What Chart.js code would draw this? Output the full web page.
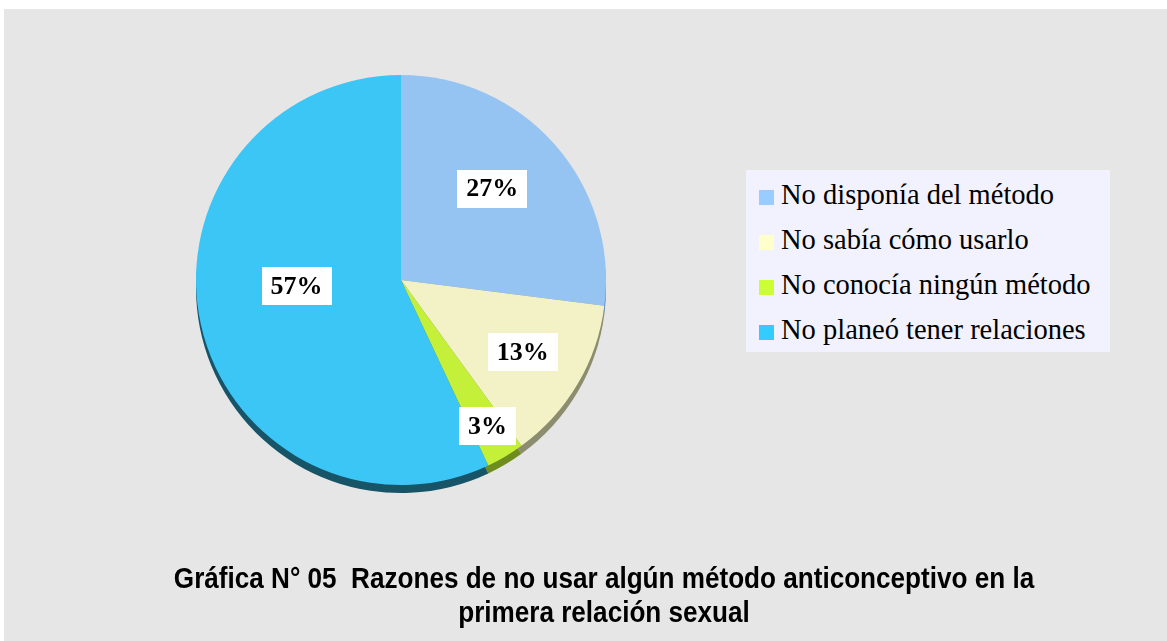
<!DOCTYPE html>
<html>
<head>
<meta charset="utf-8">
<script src="https://cdn.jsdelivr.net/npm/chart.js@4.4.1/dist/chart.umd.min.js"></script>
<style>
  body { margin: 0; background: #fff; width: 1167px; height: 641px; overflow: hidden; position: relative; }
  #panel { position: absolute; left: 4px; top: 9px; width: 1163px; height: 632px; background: #e6e6e6; }
  #pie { position: absolute; left: 0; top: 0; }
  #legend {
    position: absolute; left: 742px; top: 161px; width: 364px; height: 180px; padding-top: 2px;
    background: #f2f2fe; font-family: "Liberation Serif", "Times New Roman", serif; font-size: 28.5px; color: #000;
  }
  #legend div { height: 45px; line-height: 45px; white-space: nowrap; }
  #legend span { display: inline-block; width: 15px; height: 15px; margin: 0 7px 0 13px; vertical-align: -1px; }
  #title {
    position: absolute; left: 100px; top: 552px; width: 1000px; text-align: center;
    font-family: "Liberation Sans Narrow", "Arial Narrow", "Liberation Sans", sans-serif;
    font-weight: bold; font-size: 29px; line-height: 34px; color: #000;
    transform: scaleX(0.9); transform-origin: 500px 0;
  }
</style>
</head>
<body>
<div id="panel">
  <canvas id="pie" width="1163" height="632"></canvas>
  <div id="legend"></div>
  <div id="title">Gráfica N° 05&nbsp; Razones de no usar algún método anticonceptivo en la<br>primera relación sexual</div>
</div>
<script>
const categories = ["No disponía del método", "No sabía cómo usarlo", "No conocía ningún método", "No planeó tener relaciones"];
const percents = [27, 13, 3, 57];
const sliceColors = ["#95c3f2", "#f2f2c6", "#c5f03a", "#3cc6f6"];
const sideColors = ["#5a7fa8", "#8c8c6e", "#6f8c1e", "#175468"];
const swatchColors = ["#99ccff", "#ffffcc", "#ccff33", "#33ccff"];
const labelDist = [0.63, 0.69, 0.83, 0.51];
const labelShift = [-3.6, 0, 0, 9.3]; // degrees

// legend
const legend = document.getElementById("legend");
categories.forEach((name, i) => {
  const row = document.createElement("div");
  row.innerHTML = `<span style="background:${swatchColors[i]}"></span>${name}`;
  legend.appendChild(row);
});

// darker edge under the pie, like a tilted 3D pie
const sidePlugin = {
  id: "side",
  beforeDatasetsDraw(chart) {
    const ctx = chart.ctx;
    chart.getDatasetMeta(0).data.forEach((arc, i) => {
      const p = arc.getProps(["x", "y", "startAngle", "endAngle", "outerRadius"], true);
      ctx.save();
      ctx.beginPath();
      ctx.moveTo(p.x, p.y + 8);
      ctx.arc(p.x, p.y + 8, p.outerRadius, p.startAngle, p.endAngle);
      ctx.closePath();
      ctx.fillStyle = sideColors[i];
      ctx.fill();
      ctx.restore();
    });
  }
};

// white boxed percentage labels
const labelPlugin = {
  id: "boxLabels",
  afterDatasetsDraw(chart) {
    const ctx = chart.ctx;
    ctx.save();
    ctx.font = "bold 26px 'Liberation Serif', 'Times New Roman', serif";
    ctx.textAlign = "center";
    ctx.textBaseline = "middle";
    chart.getDatasetMeta(0).data.forEach((arc, i) => {
      const p = arc.getProps(["x", "y", "startAngle", "endAngle", "outerRadius"], true);
      const mid = (p.startAngle + p.endAngle) / 2 + labelShift[i] * Math.PI / 180;
      const d = p.outerRadius * labelDist[i];
      const cx = p.x + Math.cos(mid) * d;
      const cy = p.y + Math.sin(mid) * d;
      const text = percents[i] + "%";
      const w = ctx.measureText(text).width + 18;
      ctx.fillStyle = "#fff";
      ctx.fillRect(Math.round(cx - w / 2), Math.round(cy - 19), Math.round(w), 38);
      ctx.fillStyle = "#000";
      ctx.fillText(text, cx, cy + 1);
    });
    ctx.restore();
  }
};

new Chart(document.getElementById("pie").getContext("2d"), {
  type: "pie",
  data: {
    labels: categories,
    datasets: [{
      data: percents,
      backgroundColor: sliceColors,
      borderWidth: 0
    }]
  },
  options: {
    responsive: false,
    animation: false,
    layout: { padding: { top: 66, bottom: 156, left: 192, right: 561 } },
    plugins: {
      legend: { display: false },
      tooltip: { enabled: false },
      title: { display: false }
    }
  },
  plugins: [sidePlugin, labelPlugin]
});
</script>
</body>
</html>
